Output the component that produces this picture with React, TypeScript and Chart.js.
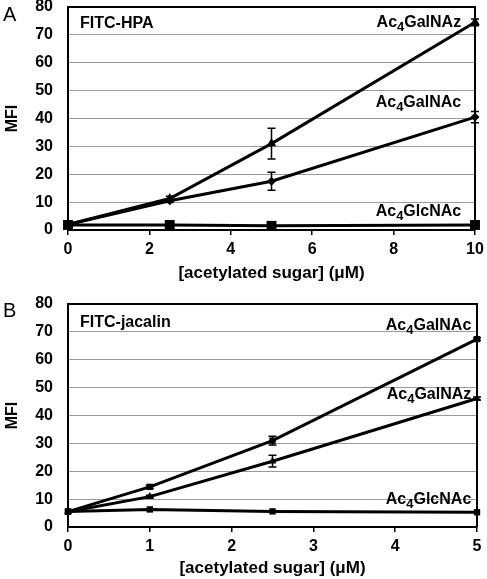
import React, { useEffect, useRef } from "react";
import { Chart, registerables } from "chart.js";

Chart.register(...registerables);

const FONT = "'Liberation Sans', Arial, Helvetica, sans-serif";

// ---------- Panel A: FITC-HPA ----------
const dosesA = [0, 2.5, 5, 10];
const galNAzA = [2, 11.3, 31, 74.5];
const galNAzErrA = [0, 0.8, 5.5, 1.2];
const galNAcA = [2, 10.5, 17.5, 40.5];
const galNAcErrA = [0, 0.6, 3.2, 2];
const glcNAcA = [1.8, 1.8, 1.5, 1.8];
const xTicksA = [0, 2, 4, 6, 8, 10];

// ---------- Panel B: FITC-jacalin ----------
const dosesB = [0, 1, 2.5, 5];
const galNAcB = [5.5, 14.4, 31, 67.4];
const galNAcErrB = [0, 0.6, 1.6, 0.5];
const galNAzB = [5.5, 10.9, 23.6, 46.1];
const galNAzErrB = [0, 0.5, 2.1, 0.5];
const glcNAcB = [5.6, 6.3, 5.6, 5.3];
const xTicksB = [0, 1, 2, 3, 4, 5];

const yTicks = [0, 10, 20, 30, 40, 50, 60, 70, 80];
const xTitle = "[acetylated sugar] (\u03BCM)";
const yTitle = "MFI";

type SeriesLabel = { pre: string; sub: string; post: string; x: number; y: number };

type PanelSpec = {
  letter: string;
  title: string;
  doses: number[];
  xTicks: number[];
  xMax: number;
  series: { data: number[]; err: number[]; style: string; radius: number }[];
  labels: SeriesLabel[];
  padTop: number;
  padRight: number;
  xAxisHeight: number;
  xTitlePadBottom: number;
  letterBaseline: number;
  titleBaseline: number;
};

const panelA: PanelSpec = {
  letter: "A",
  title: "FITC-HPA",
  doses: dosesA,
  xTicks: xTicksA,
  xMax: 10,
  series: [
    { data: galNAzA, err: galNAzErrA, style: "triangle", radius: 5.5 },
    { data: galNAcA, err: galNAcErrA, style: "rectRot", radius: 4.5 },
    { data: glcNAcA, err: [0, 0, 0, 0], style: "rect", radius: 7 },
  ],
  labels: [
    { pre: "Ac", sub: "4", post: "GalNAz", x: 9.66, y: 72.9 },
    { pre: "Ac", sub: "4", post: "GalNAc", x: 9.66, y: 44.3 },
    { pre: "Ac", sub: "4", post: "GlcNAc", x: 9.66, y: 5.1 },
  ],
  padTop: 6,
  padRight: 12,
  xAxisHeight: 60,
  xTitlePadBottom: 6,
  letterBaseline: 21,
  titleBaseline: 28,
};

const panelB: PanelSpec = {
  letter: "B",
  title: "FITC-jacalin",
  doses: dosesB,
  xTicks: xTicksB,
  xMax: 5,
  series: [
    { data: galNAcB, err: galNAcErrB, style: "rect", radius: 4.5 },
    { data: galNAzB, err: galNAzErrB, style: "triangle", radius: 4.5 },
    { data: glcNAcB, err: [0, 0, 0, 0], style: "rect", radius: 4.5 },
  ],
  labels: [
    { pre: "Ac", sub: "4", post: "GalNAc", x: 4.93, y: 70.6 },
    { pre: "Ac", sub: "4", post: "GalNAz", x: 4.93, y: 46.0 },
    { pre: "Ac", sub: "4", post: "GlcNAc", x: 4.93, y: 8.3 },
  ],
  padTop: 14,
  padRight: 10,
  xAxisHeight: 52,
  xTitlePadBottom: 0,
  letterBaseline: 27,
  titleBaseline: 37,
};

function makePlugin(spec: PanelSpec) {
  return {
    id: "decor",
    beforeDatasetsDraw(chart: any) {
      const { ctx, chartArea } = chart;
      ctx.save();
      ctx.strokeStyle = "#000";
      ctx.lineWidth = 2;
      ctx.beginPath();
      ctx.moveTo(chartArea.left, chartArea.top);
      ctx.lineTo(chartArea.right, chartArea.top);
      ctx.lineTo(chartArea.right, chartArea.bottom);
      ctx.stroke();
      ctx.restore();
    },
    afterDatasetsDraw(chart: any) {
      const { ctx } = chart;
      const xs = chart.scales.x;
      const ys = chart.scales.y;
      ctx.save();
      ctx.strokeStyle = "#000";
      ctx.lineWidth = 1.5;
      spec.series.forEach((s) => {
        s.data.forEach((v, i) => {
          const e = s.err[i];
          if (!e) return;
          const px = xs.getPixelForValue(spec.doses[i]);
          const top = ys.getPixelForValue(v + e);
          const bot = ys.getPixelForValue(v - e);
          ctx.beginPath();
          ctx.moveTo(px, top);
          ctx.lineTo(px, bot);
          ctx.moveTo(px - 4, top);
          ctx.lineTo(px + 4, top);
          ctx.moveTo(px - 4, bot);
          ctx.lineTo(px + 4, bot);
          ctx.stroke();
        });
      });
      ctx.restore();
    },
    afterDraw(chart: any) {
      const { ctx, chartArea } = chart;
      const xs = chart.scales.x;
      const ys = chart.scales.y;
      ctx.save();
      ctx.fillStyle = "#000";
      ctx.textBaseline = "alphabetic";
      ctx.textAlign = "left";
      ctx.font = `20px ${FONT}`;
      ctx.fillText(spec.letter, 3, spec.letterBaseline);
      ctx.font = `bold 16px ${FONT}`;
      ctx.fillText(spec.title, chartArea.left + 12, spec.titleBaseline);
      spec.labels.forEach((l) => {
        const right = xs.getPixelForValue(l.x);
        const base = ys.getPixelForValue(l.y);
        ctx.font = `bold 16px ${FONT}`;
        const w1 = ctx.measureText(l.pre).width;
        const w3 = ctx.measureText(l.post).width;
        ctx.font = `bold 13px ${FONT}`;
        const w2 = ctx.measureText(l.sub).width;
        let x = right - (w1 + w2 + w3);
        ctx.font = `bold 16px ${FONT}`;
        ctx.fillText(l.pre, x, base);
        x += w1;
        ctx.font = `bold 13px ${FONT}`;
        ctx.fillText(l.sub, x, base + 4);
        x += w2;
        ctx.font = `bold 16px ${FONT}`;
        ctx.fillText(l.post, x, base);
      });
      ctx.restore();
    },
  };
}

function makeConfig(spec: PanelSpec): any {
  return {
    type: "line",
    data: {
      datasets: spec.series.map((s) => ({
        data: s.data.map((v, i) => ({ x: spec.doses[i], y: v })),
        borderColor: "#000",
        borderWidth: 3,
        backgroundColor: "#000",
        pointBackgroundColor: "#000",
        pointBorderColor: "#000",
        pointBorderWidth: 0,
        pointStyle: s.style,
        pointRadius: s.radius,
        tension: 0,
        clip: false,
      })),
    },
    options: {
      animation: false,
      responsive: false,
      devicePixelRatio: 1,
      layout: { padding: { top: spec.padTop, right: spec.padRight, left: 0, bottom: 0 } },
      plugins: { legend: { display: false }, tooltip: { enabled: false } },
      scales: {
        x: {
          type: "linear",
          min: 0,
          max: spec.xMax,
          afterBuildTicks: (s: any) => {
            s.ticks = spec.xTicks.map((v) => ({ value: v }));
          },
          afterFit: (s: any) => {
            s.height = spec.xAxisHeight;
            s.paddingLeft = 0;
            s.paddingRight = 0;
          },
          grid: {
            display: true,
            drawOnChartArea: false,
            drawTicks: true,
            tickLength: 5,
            color: "#000",
            lineWidth: 1.5,
          },
          border: { display: true, color: "#000", width: 2 },
          ticks: {
            color: "#000",
            padding: 5,
            maxRotation: 0,
            font: { family: FONT, size: 16, weight: "bold" },
          },
          title: {
            display: true,
            text: xTitle,
            color: "#000",
            font: { family: FONT, size: 17, weight: "bold" },
            padding: { top: 0, bottom: spec.xTitlePadBottom },
          },
        },
        y: {
          type: "linear",
          min: 0,
          max: 80,
          afterBuildTicks: (s: any) => {
            s.ticks = yTicks.map((v) => ({ value: v }));
          },
          afterFit: (s: any) => {
            s.width = 68;
            s.paddingTop = 0;
            s.paddingBottom = 0;
          },
          grid: {
            display: true,
            drawTicks: false,
            color: "#999",
            lineWidth: 1,
          },
          border: { display: true, color: "#000", width: 2 },
          ticks: {
            color: "#000",
            padding: 15,
            font: { family: FONT, size: 16, weight: "bold" },
          },
          title: {
            display: true,
            text: yTitle,
            color: "#000",
            font: { family: FONT, size: 16, weight: "bold" },
            padding: { top: 3, bottom: 0 },
          },
        },
      },
    },
    plugins: [makePlugin(spec)],
  };
}

function Panel({ spec, height }: { spec: PanelSpec; height: number }) {
  const ref = useRef<HTMLCanvasElement>(null);
  useEffect(() => {
    if (!ref.current) return;
    const chart = new Chart(ref.current, makeConfig(spec));
    return () => chart.destroy();
  }, [spec]);
  return (
    <div style={{ width: 487, height, position: "relative" }}>
      <canvas ref={ref} width={487} height={height} style={{ display: "block" }} />
    </div>
  );
}

export default function App() {
  useEffect(() => {
    document.body.style.margin = "0";
    document.body.style.background = "#fff";
  }, []);
  return (
    <div style={{ width: 487, height: 579, background: "#fff" }}>
      <Panel spec={panelA} height={290} />
      <Panel spec={panelB} height={289} />
    </div>
  );
}
